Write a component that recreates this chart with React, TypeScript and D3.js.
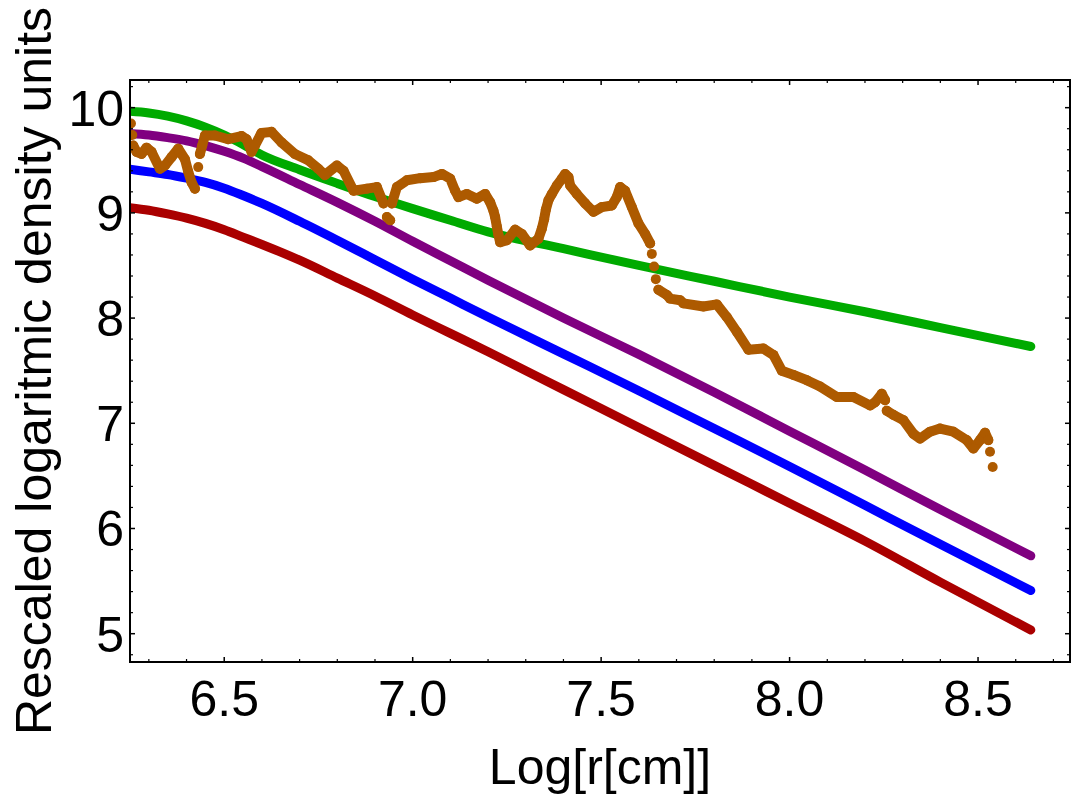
import React from 'react';
import * as d3 from 'd3';

const W = 1074;
const H = 801;

// Common x-grid (Log[r[cm]]) for the four smooth profiles
const gridX = [6.25, 6.3, 6.35, 6.4, 6.45, 6.5, 6.55, 6.6, 6.7, 6.8, 6.9, 7.0, 7.1, 7.2, 7.4, 7.6, 7.8, 8.0, 8.2, 8.4, 8.64];
const greenY = [9.965, 9.95, 9.92, 9.875, 9.815, 9.74, 9.65, 9.55, 9.41, 9.28, 9.155, 9.04, 8.93, 8.82, 8.66, 8.5, 8.35, 8.2, 8.06, 7.91, 7.73];
const purpleY = [9.755, 9.74, 9.715, 9.685, 9.64, 9.585, 9.52, 9.44, 9.27, 9.1, 8.92, 8.73, 8.545, 8.36, 8.0, 7.655, 7.295, 6.925, 6.555, 6.18, 5.74];
const blueY = [9.415, 9.39, 9.365, 9.33, 9.29, 9.235, 9.165, 9.09, 8.92, 8.74, 8.555, 8.37, 8.19, 8.01, 7.66, 7.31, 6.95, 6.59, 6.22, 5.85, 5.41];
const redY = [9.05, 9.025, 8.99, 8.95, 8.9, 8.84, 8.77, 8.7, 8.55, 8.38, 8.21, 8.03, 7.855, 7.68, 7.32, 6.96, 6.6, 6.24, 5.88, 5.49, 5.035];

// Noisy (orange) profile
const orangeX = [
  6.2525, 6.256, 6.2586, 6.2674, 6.2806, 6.2939, 6.3072, 6.3294, 6.3427, 6.3602, 6.378, 6.3958, 6.4045, 6.4133,
  6.4223, 6.431, 6.4355, 6.4416, 6.4488, 6.4753, 6.5106, 6.5459, 6.5592, 6.5724, 6.5813, 6.5989, 6.6255, 6.652,
  6.6875, 6.7228, 6.7493, 6.7671, 6.7989, 6.8165, 6.843, 6.8785, 6.905, 6.9226, 6.9316, 6.9403, 6.9448, 6.9581,
  6.9846, 7.0199, 7.0552, 7.0775, 7.0995, 7.1127, 7.1215, 7.1438, 7.1703, 7.1923, 7.2056, 7.2143, 7.2188, 7.2233,
  7.2276, 7.2321, 7.2499, 7.2719, 7.2897, 7.3117, 7.3337, 7.3427, 7.3488, 7.3533, 7.3602, 7.3692, 7.3825, 7.3958,
  7.4045, 7.4133, 7.4178, 7.4355, 7.4576, 7.4796, 7.5019, 7.5284, 7.5416, 7.5504, 7.5637, 7.5814, 7.599, 7.6167,
  7.63, 7.6345, 7.6406, 7.6451, 7.652, 7.6743, 7.683, 7.7095, 7.7183, 7.7714, 7.8069, 7.8334, 7.86, 7.8907,
  7.9305, 7.957, 7.9793, 8.0101, 8.0456, 8.0809, 8.1252, 8.1692, 8.2135, 8.2268, 8.2446, 8.2533, 8.2578, 8.2753,
  8.3019, 8.3284, 8.3462, 8.3727, 8.3992, 8.4345, 8.47, 8.4878, 8.5053, 8.5186, 8.5273, 8.5318, 8.5389,
];
const orangeY = [
  9.85, 9.74, 9.64, 9.58, 9.56, 9.62, 9.58, 9.42, 9.45, 9.53, 9.61, 9.51, 9.39, 9.29,
  9.23, 9.435, 9.56, 9.64, 9.735, 9.735, 9.7, 9.73, 9.7, 9.58, 9.64, 9.76, 9.77, 9.67,
  9.56, 9.5, 9.42, 9.36, 9.45, 9.4, 9.21, 9.23, 9.245, 9.09, 8.96, 8.93, 9.09, 9.245,
  9.31, 9.33, 9.34, 9.37, 9.325, 9.21, 9.15, 9.18, 9.135, 9.18, 9.1, 9.02, 8.96, 8.87,
  8.79, 8.72, 8.74, 8.84, 8.8, 8.69, 8.755, 8.85, 8.94, 9.03, 9.12, 9.18, 9.26, 9.325,
  9.37, 9.34, 9.26, 9.18, 9.09, 9.01, 9.055, 9.07, 9.15, 9.245, 9.21, 9.055, 8.9, 8.8,
  8.71, 8.61, 8.49, 8.37, 8.27, 8.22, 8.185, 8.17, 8.14, 8.11, 8.13, 8.01, 7.87, 7.7,
  7.71, 7.65, 7.5, 7.46, 7.41, 7.35, 7.25, 7.25, 7.17, 7.2, 7.28, 7.22, 7.12, 7.08,
  7.03, 6.9, 6.855, 6.92, 6.95, 6.92, 6.84, 6.76, 6.84, 6.91, 6.84, 6.73, 6.585,
];

const xTicks = [6.5, 7.0, 7.5, 8.0, 8.5];
const xTickLabels = ['6.5', '7.0', '7.5', '8.0', '8.5'];
const yTicks = [5, 6, 7, 8, 9, 10];
const yTickLabels = ['5', '6', '7', '8', '9', '10'];

const xTitle = 'Log[r[cm]]';
const yTitle = 'Rescaled logaritmic density units';

const smoothSeries = [
  { name: 'green', values: greenY, color: '#00aa00' },
  { name: 'purple', values: purpleY, color: '#800080' },
  { name: 'blue', values: blueY, color: '#0000ff' },
  { name: 'red', values: redY, color: '#aa0000' },
];
const orangeColor = '#ad5a00';

const FONT = '"Liberation Sans", Arial, Helvetica, sans-serif';

export default function App() {
  const left = 130, right = 1070, top = 80, bottom = 662;
  const x = d3.scaleLinear().domain([6.25, 8.744]).range([left, right]);
  const y = d3.scaleLinear().domain([4.731, 10.263]).range([bottom, top]);

  const line = d3
    .line<[number, number]>()
    .x((d) => x(d[0]))
    .y((d) => y(d[1]))
    .curve(d3.curveMonotoneX);

  const orangePts: [number, number][] = orangeX.map((u, i) => [x(u), y(orangeY[i])]);
  // split orange into connected runs; near-vertical jumps leave separate dots
  const runs: [number, number][][] = [];
  let cur: [number, number][] = [];
  orangePts.forEach((p, i) => {
    if (i > 0) {
      const q = orangePts[i - 1];
      const dx = Math.abs(p[0] - q[0]);
      const dy = Math.abs(p[1] - q[1]);
      if (dy > 10 && dy > 4 * dx) {
        runs.push(cur);
        cur = [];
      }
    }
    cur.push(p);
  });
  runs.push(cur);
  const linPath = d3.line<[number, number]>().curve(d3.curveLinear);

  const xMinor = d3.range(63, 88).map((d) => d / 10).filter((d) => !xTicks.some((t) => Math.abs(t - d) < 1e-6));
  const yMinor = d3.range(24, 52).map((d) => d / 5).filter((d) => !yTicks.some((t) => Math.abs(t - d) < 1e-6));

  const major = 5;
  const minor = 3;

  return (
    <svg
      width={W}
      height={H}
      viewBox={`0 0 ${W} ${H}`}
      style={{ position: 'absolute', left: 0, top: 0, background: '#fff' }}
    >
      <defs>
        <clipPath id="plotClip">
          <rect x={left} y={top} width={right - left} height={bottom - top} />
        </clipPath>
      </defs>
      <rect x={0} y={0} width={W} height={H} fill="#fff" />
      <g clipPath="url(#plotClip)">
        {smoothSeries.map((s) => (
          <path
            key={s.name}
            d={line(gridX.map((u, i) => [u, s.values[i]] as [number, number])) || ''}
            fill="none"
            stroke={s.color}
            strokeWidth={9}
            strokeLinecap="round"
            strokeLinejoin="round"
          />
        ))}
        {runs
          .filter((r) => r.length > 1)
          .map((r, i) => (
            <path
              key={'or' + i}
              d={linPath(r) || ''}
              fill="none"
              stroke={orangeColor}
              strokeWidth={10}
              strokeLinecap="round"
              strokeLinejoin="round"
            />
          ))}
        {orangePts.map((p, i) => (
          <circle key={'od' + i} cx={p[0]} cy={p[1]} r={5} fill={orangeColor} />
        ))}
      </g>

      {/* frame */}
      <rect x={left} y={top} width={right - left} height={bottom - top} fill="none" stroke="#000" strokeWidth={2} />

      {/* x ticks bottom and top */}
      {xTicks.map((t) => (
        <g key={'xt' + t}>
          <line x1={x(t)} x2={x(t)} y1={bottom} y2={bottom - major} stroke="#000" strokeWidth={1.5} />
          <line x1={x(t)} x2={x(t)} y1={top} y2={top + major} stroke="#000" strokeWidth={1.5} />
        </g>
      ))}
      {xMinor.map((t) => (
        <g key={'xm' + t}>
          <line x1={x(t)} x2={x(t)} y1={bottom} y2={bottom - minor} stroke="#000" strokeWidth={1.2} />
          <line x1={x(t)} x2={x(t)} y1={top} y2={top + minor} stroke="#000" strokeWidth={1.2} />
        </g>
      ))}
      {yTicks.map((t) => (
        <g key={'yt' + t}>
          <line x1={left} x2={left + major} y1={y(t)} y2={y(t)} stroke="#000" strokeWidth={1.5} />
          <line x1={right} x2={right - major} y1={y(t)} y2={y(t)} stroke="#000" strokeWidth={1.5} />
        </g>
      ))}
      {yMinor.map((t) => (
        <g key={'ym' + t}>
          <line x1={left} x2={left + minor} y1={y(t)} y2={y(t)} stroke="#000" strokeWidth={1.2} />
          <line x1={right} x2={right - minor} y1={y(t)} y2={y(t)} stroke="#000" strokeWidth={1.2} />
        </g>
      ))}

      {/* tick labels */}
      {xTicks.map((t, i) => (
        <text key={'xl' + t} x={x(t)} y={716} textAnchor="middle" fontFamily={FONT} fontSize={50} fill="#000">
          {xTickLabels[i]}
        </text>
      ))}
      {yTicks.map((t, i) => (
        <text key={'yl' + t} x={124} y={y(t) + 18} textAnchor="end" fontFamily={FONT} fontSize={50} fill="#000">
          {yTickLabels[i]}
        </text>
      ))}

      {/* axis titles */}
      <text x={600} y={784} textAnchor="middle" fontFamily={FONT} fontSize={50} fill="#000">
        {xTitle}
      </text>
      <text
        transform={`translate(51, 371) rotate(-90)`}
        textAnchor="middle"
        fontFamily={FONT}
        fontSize={50}
        fill="#000"
      >
        {yTitle}
      </text>
    </svg>
  );
}
